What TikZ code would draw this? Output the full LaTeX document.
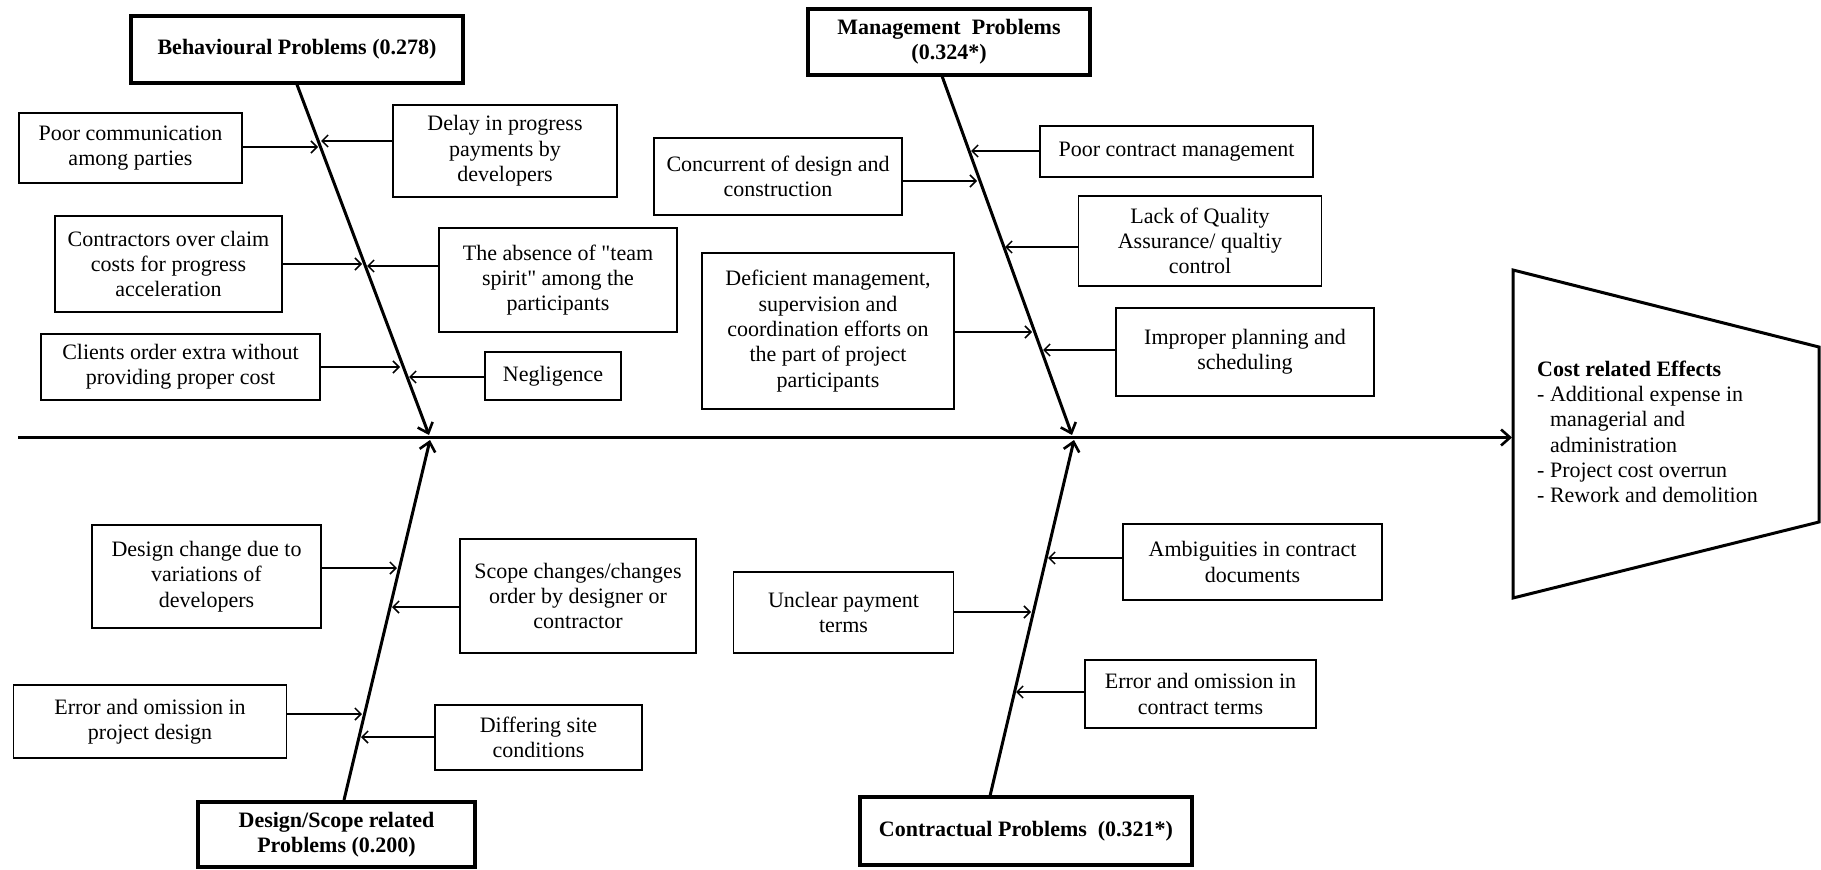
\documentclass[tikz,border=0pt]{standalone}
\usepackage{fontspec}
\setmainfont{Liberation Serif}
\newfontfamily\plainq[Ligatures=TeXOff]{Liberation Serif}
\usetikzlibrary{arrows.meta}
\begin{document}
\begin{tikzpicture}[x=1pt,y=-1pt,
  every node/.style={font=\fontsize{22}{25.3}\selectfont},
  cause/.style={draw, line width=1.6pt, align=center, inner sep=0pt},
  cat/.style={draw, line width=3.2pt, align=center, inner sep=0pt, font=\fontsize{22}{25.3}\selectfont\bfseries},
  bone/.style={line width=3pt, -{Straight Barb[length=9pt,width=16pt,line width=2.6pt]}},
  arr/.style={line width=1.5pt, -{Straight Barb[length=6pt,width=12pt]}},
]
\useasboundingbox (0,0) rectangle (1821,870);

% ---------- Behavioural ----------
\node[cat, minimum width=332, minimum height=67] (Bh) at (297,49.5) {Behavioural Problems (0.278)};
\coordinate (bj) at (429,435);
\draw[bone] (Bh.south) -- (bj);
\node[cause, minimum width=223, minimum height=70] (PC) at (130.5,148) {Poor communication\\among parties};
\node[cause, minimum width=224, minimum height=92] (DL) at (505,151) {Delay in progress\\payments by\\developers};
\node[cause, minimum width=227, minimum height=96] (CO) at (168.5,264) {Contractors over claim\\costs for progress\\acceleration};
\node[cause, minimum width=238, minimum height=104] (AB) at (558,280) {The absence of {\plainq"}team\\spirit{\plainq"} among the\\participants};
\node[cause, minimum width=279, minimum height=66] (CL) at (180.5,367) {Clients order extra without\\providing proper cost};
\node[cause, minimum width=136, minimum height=48] (NG) at (553,376) {Negligence};
\coordinate (b1) at (318,147);
\coordinate (b2) at (321,141);
\coordinate (b3) at (362,264);
\coordinate (b4) at (367,266);
\coordinate (b5) at (400,367);
\coordinate (b6) at (409,377);
\draw[arr] (PC.east |- b1) -- (b1);
\draw[arr] (DL.west |- b2) -- (b2);
\draw[arr] (CO.east |- b3) -- (b3);
\draw[arr] (AB.west |- b4) -- (b4);
\draw[arr] (CL.east |- b5) -- (b5);
\draw[arr] (NG.west |- b6) -- (b6);

% ---------- Management ----------
\node[cat, minimum width=282, minimum height=66] (Mg) at (949,42) {Management\ \ Problems\\(0.324*)};
\coordinate (ms) at (942,76);
\coordinate (mj) at (1072,435);
\draw[bone] (ms) -- (mj);
\node[cause, minimum width=273, minimum height=51] (PM) at (1176.5,151.5) {Poor contract management};
\node[cause, minimum width=248, minimum height=77] (CC) at (778,176.5) {Concurrent of design and\\construction};
\node[cause, minimum width=243, minimum height=90] (LQ) at (1200,241) {Lack of Quality\\Assurance/ qualtiy\\control};
\node[cause, minimum width=252, minimum height=156] (DF) at (828,331) {Deficient management,\\supervision and\\coordination efforts on\\the part of project\\participants};
\node[cause, minimum width=258, minimum height=88] (IP) at (1245,352) {Improper planning and\\scheduling};
\coordinate (m1) at (971,151);
\coordinate (m2) at (977,181);
\coordinate (m3) at (1005,247);
\coordinate (m4) at (1032,332);
\coordinate (m5) at (1043,350);
\draw[arr] (PM.west |- m1) -- (m1);
\draw[arr] (CC.east |- m2) -- (m2);
\draw[arr] (LQ.west |- m3) -- (m3);
\draw[arr] (DF.east |- m4) -- (m4);
\draw[arr] (IP.west |- m5) -- (m5);

% ---------- Design / Scope ----------
\node[cat, minimum width=277, minimum height=65] (Ds) at (336.5,834.5) {Design/Scope related\\Problems (0.200)};
\coordinate (ds) at (344,800);
\coordinate (dj) at (430,440);
\draw[bone] (ds) -- (dj);
\node[cause, minimum width=229, minimum height=103] (DC) at (206.5,576.5) {Design change due to\\variations of\\developers};
\node[cause, minimum width=236, minimum height=114] (SC) at (578,596) {Scope changes/changes\\order by designer or\\contractor};
\node[cause, minimum width=273, minimum height=73] (EP) at (150,721.5) {Error and omission in\\project design};
\node[cause, minimum width=207, minimum height=65] (DS) at (538.5,737.5) {Differing site\\conditions};
\coordinate (d1) at (397,568);
\coordinate (d2) at (392,607);
\coordinate (d3) at (362,714);
\coordinate (d4) at (361,737);
\draw[arr] (DC.east |- d1) -- (d1);
\draw[arr] (SC.west |- d2) -- (d2);
\draw[arr] (EP.east |- d3) -- (d3);
\draw[arr] (DS.west |- d4) -- (d4);

% ---------- Contractual ----------
\node[cat, minimum width=332, minimum height=68] (Ct) at (1026,831) {Contractual Problems\ \ (0.321*)};
\coordinate (cs) at (990,796);
\coordinate (cj) at (1074,440);
\draw[bone] (cs) -- (cj);
\node[cause, minimum width=220, minimum height=81] (UP) at (843.5,612.5) {Unclear payment\\terms};
\node[cause, minimum width=259, minimum height=76] (AM) at (1252.5,562) {Ambiguities in contract\\documents};
\node[cause, minimum width=231, minimum height=68] (EC) at (1200.5,694) {Error and omission in\\contract terms};
\coordinate (c1) at (1031,612);
\coordinate (c2) at (1048,558);
\coordinate (c3) at (1016,692);
\draw[arr] (UP.east |- c1) -- (c1);
\draw[arr] (AM.west |- c2) -- (c2);
\draw[arr] (EC.west |- c3) -- (c3);

% ---------- Head / effect ----------
\coordinate (ml) at (18,437.5);
\coordinate (effin) at (1512,437.5);
\draw[line width=3pt] (1513,270) -- (1819,347) -- (1819,522) -- (1513,598) -- cycle;
\draw[bone] (ml) -- (effin);
\node[anchor=west, align=left, inner sep=0pt] (Eff) at (1537,432)
  {\textbf{Cost related Effects}\\- Additional expense in\\\phantom{- }managerial and\\\phantom{- }administration\\- Project cost overrun\\- Rework and demolition};
\end{tikzpicture}
\end{document}
